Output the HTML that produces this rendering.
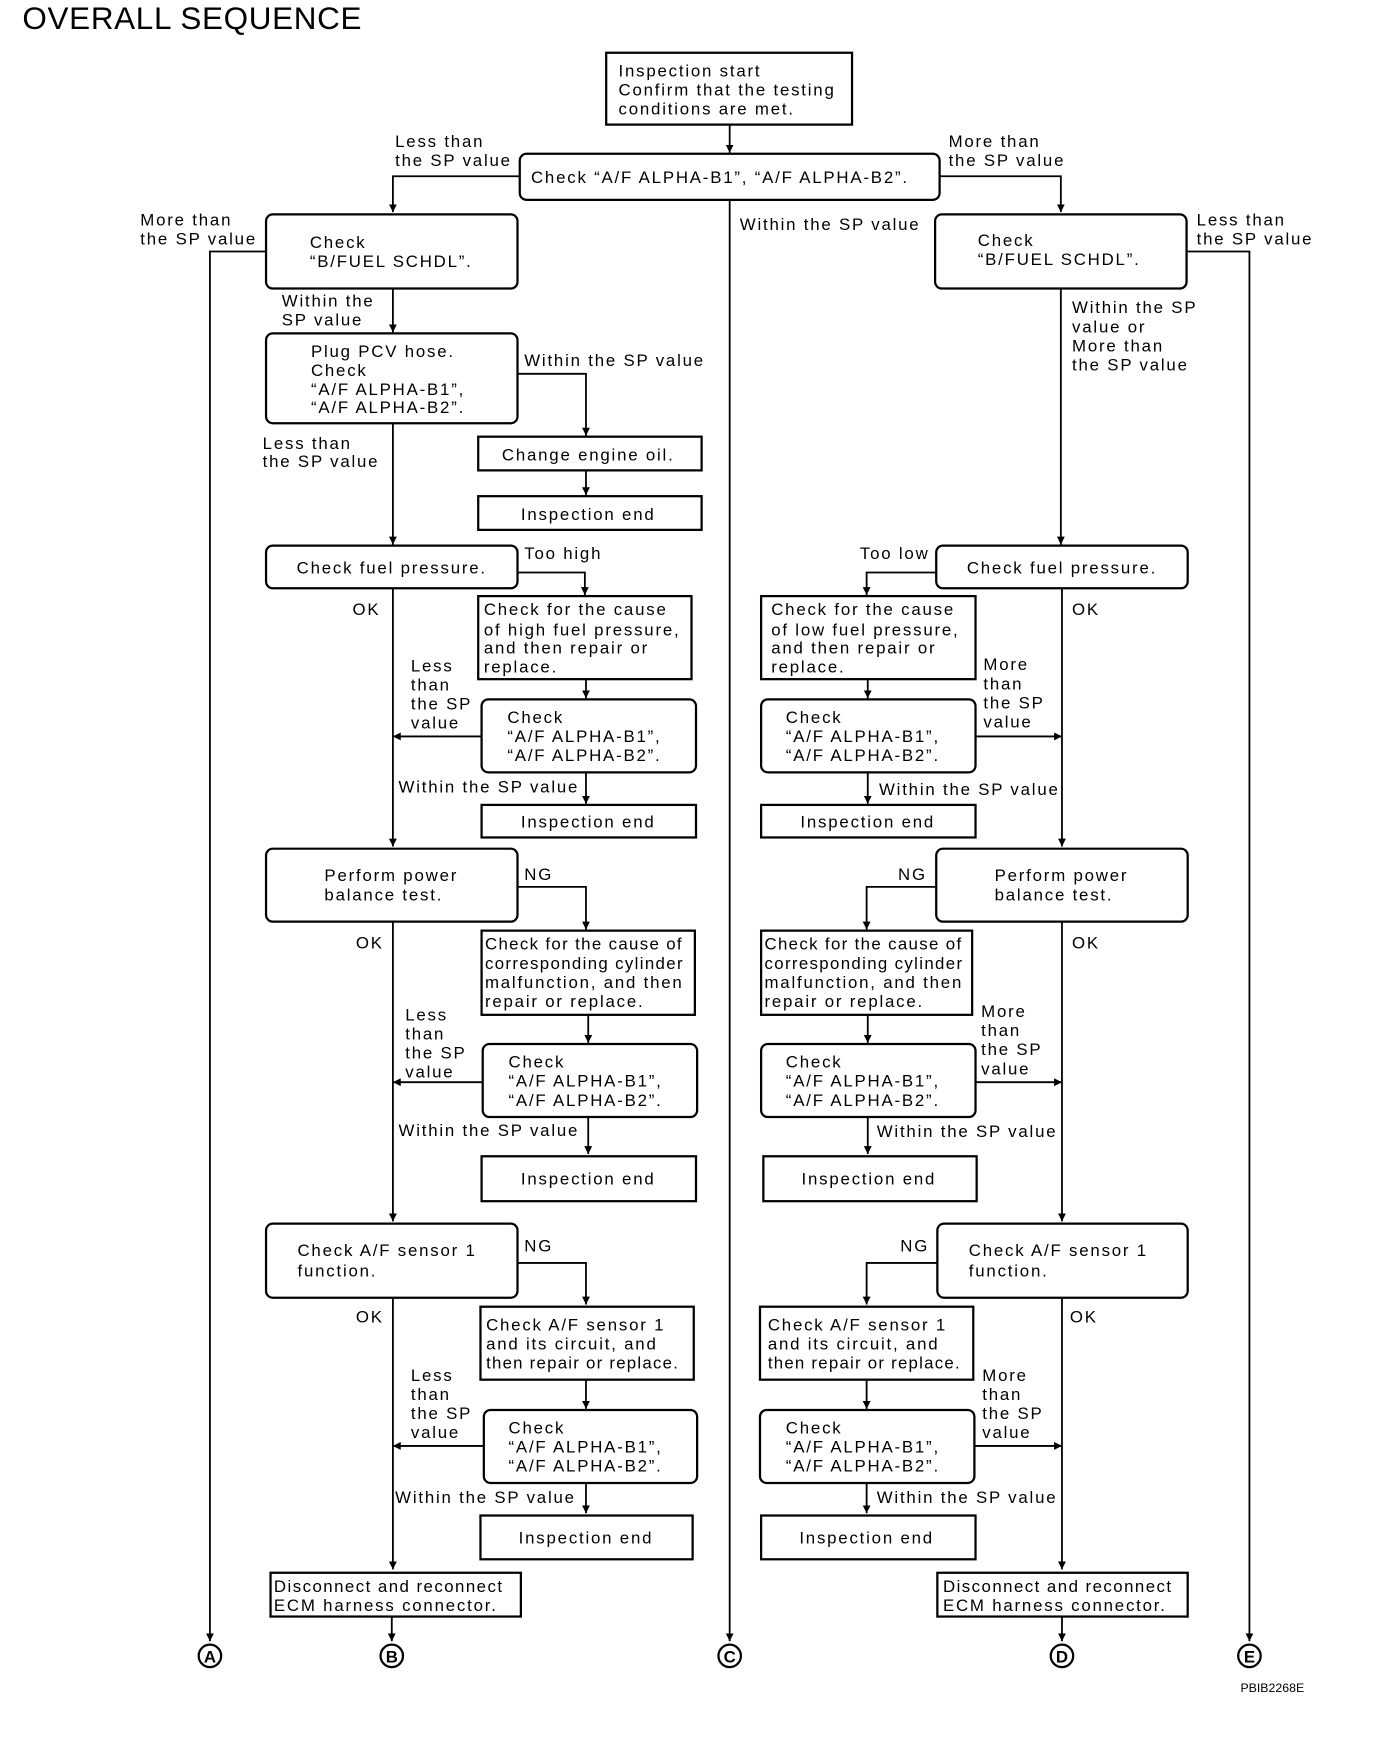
<!DOCTYPE html>
<html><head><meta charset="utf-8"><style>
html,body{margin:0;padding:0;background:#fff}
svg{display:block}
text{font-family:"Liberation Sans",sans-serif;font-size:15px;letter-spacing:1.6px;fill:#000}
.b{fill:#fff;stroke:#000;stroke-width:2}
.l{fill:none;stroke:#000;stroke-width:1.6}
.c{text-anchor:middle}
</style></head><body>
<svg width="1392" height="1758" viewBox="0 0 1240 1566" preserveAspectRatio="none" xmlns="http://www.w3.org/2000/svg">
<defs><marker id="a" viewBox="0 0 10 10" refX="10" refY="5" markerWidth="7" markerHeight="7" markerUnits="userSpaceOnUse" orient="auto"><path d="M0,0 L10,5 L0,10 z" fill="#000"/></marker></defs>
<text x="20" y="26" style="font-size:28px;letter-spacing:0.6px">OVERALL SEQUENCE</text>

<rect class="b" x="540" y="47" width="219" height="64"/>
<text x="551" y="68">Inspection start</text><text x="551" y="85">Confirm that the testing</text><text x="551" y="102">conditions are met.</text>
<path class="l" d="M650,111V136" marker-end="url(#a)"/>
<rect class="b" x="463" y="137" width="374" height="41" rx="6"/>
<text x="473" y="163">Check “A/F ALPHA-B1”, “A/F ALPHA-B2”.</text>
<path class="l" d="M463,157H350V189" marker-end="url(#a)"/>
<text x="352" y="131">Less than</text><text x="352" y="148">the SP value</text>
<path class="l" d="M837,157H945V189" marker-end="url(#a)"/>
<text x="845" y="131">More than</text><text x="845" y="148">the SP value</text>
<path class="l" d="M650,178V1462" marker-end="url(#a)"/>
<text x="659" y="205">Within the SP value</text>

<rect class="b" x="237" y="191" width="224" height="66" rx="6"/>
<text x="276" y="221">Check</text><text x="276" y="238">“B/FUEL SCHDL”.</text>
<text x="125" y="201">More than</text><text x="125" y="218">the SP value</text>
<path class="l" d="M237,224H187V1462" marker-end="url(#a)"/>
<rect class="b" x="833" y="191" width="224" height="66" rx="6"/>
<text x="871" y="219">Check</text><text x="871" y="236">“B/FUEL SCHDL”.</text>
<text x="1066" y="201">Less than</text><text x="1066" y="218">the SP value</text>
<path class="l" d="M1057,224H1113V1462" marker-end="url(#a)"/>

<path class="l" d="M350,257V296" marker-end="url(#a)"/>
<text x="251" y="273">Within the</text><text x="251" y="290">SP value</text>
<rect class="b" x="237" y="297" width="224" height="80" rx="6"/>
<text x="277" y="318">Plug PCV hose.</text><text x="277" y="335">Check</text><text x="277" y="352">“A/F ALPHA-B1”,</text><text x="277" y="368">“A/F ALPHA-B2”.</text>
<path class="l" d="M461,333H522V388" marker-end="url(#a)"/>
<text x="467" y="326">Within the SP value</text>
<rect class="b" x="426" y="389" width="199" height="30"/><text class="c" x="524" y="410">Change engine oil.</text>
<path class="l" d="M522,419V441" marker-end="url(#a)"/>
<rect class="b" x="426" y="442" width="199" height="30"/><text class="c" x="524" y="463">Inspection end</text>
<path class="l" d="M350,377V485" marker-end="url(#a)"/>
<text x="234" y="400">Less than</text><text x="234" y="416">the SP value</text>

<rect class="b" x="237" y="486" width="224" height="38" rx="6"/><text class="c" x="349" y="511">Check fuel pressure.</text>
<path class="l" d="M461,510H521V530" marker-end="url(#a)"/><text x="467" y="498">Too high</text>
<rect class="b" x="426" y="531" width="190" height="74"/>
<text x="431" y="548">Check for the cause</text><text x="431" y="566">of high fuel pressure,</text><text x="431" y="582">and then repair or</text><text x="431" y="599">replace.</text>
<path class="l" d="M522,605V622" marker-end="url(#a)"/>
<rect class="b" x="429" y="623" width="191" height="65" rx="6"/>
<text x="452" y="644">Check</text><text x="452" y="661">“A/F ALPHA-B1”,</text><text x="452" y="678">“A/F ALPHA-B2”.</text>
<path class="l" d="M429,656H350" marker-end="url(#a)"/>
<text x="366" y="598">Less</text><text x="366" y="615">than</text><text x="366" y="632">the SP</text><text x="366" y="649">value</text>
<text x="314" y="548">OK</text>
<path class="l" d="M350,524V754" marker-end="url(#a)"/>
<path class="l" d="M522,688V716" marker-end="url(#a)"/><text x="355" y="706">Within the SP value</text>
<rect class="b" x="429" y="717" width="191" height="29"/><text class="c" x="524" y="737">Inspection end</text>

<rect class="b" x="237" y="756" width="224" height="65" rx="6"/>
<text x="289" y="785">Perform power</text><text x="289" y="802">balance test.</text>
<path class="l" d="M461,790H522V828" marker-end="url(#a)"/><text x="467" y="784">NG</text>
<rect class="b" x="429" y="829" width="190" height="75"/>
<text x="432" y="846" style="letter-spacing:1.2px">Check for the cause of</text><text x="432" y="863" style="letter-spacing:1.2px">corresponding cylinder</text><text x="432" y="880">malfunction, and then</text><text x="432" y="897">repair or replace.</text>
<path class="l" d="M524,904V929" marker-end="url(#a)"/>
<rect class="b" x="430" y="930" width="191" height="65" rx="6"/>
<text x="453" y="951">Check</text><text x="453" y="968">“A/F ALPHA-B1”,</text><text x="453" y="985">“A/F ALPHA-B2”.</text>
<path class="l" d="M430,964H350" marker-end="url(#a)"/>
<text x="361" y="909">Less</text><text x="361" y="926">than</text><text x="361" y="943">the SP</text><text x="361" y="960">value</text>
<text x="317" y="845">OK</text>
<path class="l" d="M350,821V1088" marker-end="url(#a)"/>
<path class="l" d="M524,995V1028" marker-end="url(#a)"/><text x="355" y="1012">Within the SP value</text>
<rect class="b" x="429" y="1030" width="191" height="40"/><text class="c" x="524" y="1055">Inspection end</text>

<rect class="b" x="237" y="1090" width="224" height="66" rx="6"/>
<text x="265" y="1119">Check A/F sensor 1</text><text x="265" y="1137">function.</text>
<path class="l" d="M461,1125H522V1162" marker-end="url(#a)"/><text x="467" y="1115">NG</text>
<rect class="b" x="428" y="1164" width="190" height="65"/>
<text x="433" y="1185">Check A/F sensor 1</text><text x="433" y="1202">and its circuit, and</text><text x="433" y="1219" style="letter-spacing:1.1px">then repair or replace.</text>
<path class="l" d="M522,1229V1255" marker-end="url(#a)"/>
<rect class="b" x="431" y="1256" width="190" height="65" rx="6"/>
<text x="453" y="1277">Check</text><text x="453" y="1294">“A/F ALPHA-B1”,</text><text x="453" y="1311">“A/F ALPHA-B2”.</text>
<path class="l" d="M431,1288H350" marker-end="url(#a)"/>
<text x="366" y="1230">Less</text><text x="366" y="1247">than</text><text x="366" y="1264">the SP</text><text x="366" y="1281">value</text>
<text x="317" y="1178">OK</text>
<path class="l" d="M350,1156V1398" marker-end="url(#a)"/>
<path class="l" d="M522,1321V1348" marker-end="url(#a)"/><text x="352" y="1339">Within the SP value</text>
<rect class="b" x="428" y="1350" width="189" height="39"/><text class="c" x="522" y="1375">Inspection end</text>
<rect class="b" x="241" y="1401" width="223" height="39"/>
<text x="244" y="1418" style="letter-spacing:1.3px">Disconnect and reconnect</text><text x="244" y="1435">ECM harness connector.</text>
<path class="l" d="M349,1440V1462" marker-end="url(#a)"/>

<path class="l" d="M945,257V485" marker-end="url(#a)"/>
<text x="955" y="279">Within the SP</text><text x="955" y="296">value or</text><text x="955" y="313">More than</text><text x="955" y="330">the SP value</text>
<rect class="b" x="834" y="486" width="224" height="38" rx="6"/><text class="c" x="946" y="511">Check fuel pressure.</text>
<path class="l" d="M834,510H772V530" marker-end="url(#a)"/><text x="766" y="498">Too low</text>
<rect class="b" x="678" y="531" width="191" height="74"/>
<text x="687" y="548">Check for the cause</text><text x="687" y="566">of low fuel pressure,</text><text x="687" y="582">and then repair or</text><text x="687" y="599">replace.</text>
<path class="l" d="M773,605V622" marker-end="url(#a)"/>
<rect class="b" x="678" y="623" width="191" height="65" rx="6"/>
<text x="700" y="644">Check</text><text x="700" y="661">“A/F ALPHA-B1”,</text><text x="700" y="678">“A/F ALPHA-B2”.</text>
<path class="l" d="M869,656H946" marker-end="url(#a)"/>
<text x="876" y="597">More</text><text x="876" y="614">than</text><text x="876" y="631">the SP</text><text x="876" y="648">value</text>
<text x="955" y="548">OK</text>
<path class="l" d="M946,524V754" marker-end="url(#a)"/>
<path class="l" d="M773,688V716" marker-end="url(#a)"/><text x="783" y="708">Within the SP value</text>
<rect class="b" x="678" y="717" width="191" height="29"/><text class="c" x="773" y="737">Inspection end</text>

<rect class="b" x="834" y="756" width="224" height="65" rx="6"/>
<text x="886" y="785">Perform power</text><text x="886" y="802">balance test.</text>
<path class="l" d="M834,790H772V828" marker-end="url(#a)"/><text x="800" y="784">NG</text>
<rect class="b" x="678" y="829" width="188" height="75"/>
<text x="681" y="846" style="letter-spacing:1.2px">Check for the cause of</text><text x="681" y="863" style="letter-spacing:1.2px">corresponding cylinder</text><text x="681" y="880">malfunction, and then</text><text x="681" y="897">repair or replace.</text>
<path class="l" d="M773,904V929" marker-end="url(#a)"/>
<rect class="b" x="678" y="930" width="191" height="65" rx="6"/>
<text x="700" y="951">Check</text><text x="700" y="968">“A/F ALPHA-B1”,</text><text x="700" y="985">“A/F ALPHA-B2”.</text>
<path class="l" d="M869,964H946" marker-end="url(#a)"/>
<text x="874" y="906">More</text><text x="874" y="923">than</text><text x="874" y="940">the SP</text><text x="874" y="957">value</text>
<text x="955" y="845">OK</text>
<path class="l" d="M946,821V1088" marker-end="url(#a)"/>
<path class="l" d="M773,995V1028" marker-end="url(#a)"/><text x="781" y="1013">Within the SP value</text>
<rect class="b" x="680" y="1030" width="190" height="40"/><text class="c" x="774" y="1055">Inspection end</text>

<rect class="b" x="835" y="1090" width="223" height="66" rx="6"/>
<text x="863" y="1119">Check A/F sensor 1</text><text x="863" y="1137">function.</text>
<path class="l" d="M835,1125H772V1162" marker-end="url(#a)"/><text x="802" y="1115">NG</text>
<rect class="b" x="677" y="1164" width="190" height="65"/>
<text x="684" y="1185">Check A/F sensor 1</text><text x="684" y="1202">and its circuit, and</text><text x="684" y="1219" style="letter-spacing:1.1px">then repair or replace.</text>
<path class="l" d="M772,1229V1255" marker-end="url(#a)"/>
<rect class="b" x="677" y="1256" width="191" height="65" rx="6"/>
<text x="700" y="1277">Check</text><text x="700" y="1294">“A/F ALPHA-B1”,</text><text x="700" y="1311">“A/F ALPHA-B2”.</text>
<path class="l" d="M868,1288H946" marker-end="url(#a)"/>
<text x="875" y="1230">More</text><text x="875" y="1247">than</text><text x="875" y="1264">the SP</text><text x="875" y="1281">value</text>
<text x="953" y="1178">OK</text>
<path class="l" d="M946,1156V1398" marker-end="url(#a)"/>
<path class="l" d="M772,1321V1348" marker-end="url(#a)"/><text x="781" y="1339">Within the SP value</text>
<rect class="b" x="678" y="1350" width="191" height="39"/><text class="c" x="772" y="1375">Inspection end</text>
<rect class="b" x="835" y="1401" width="223" height="39"/>
<text x="840" y="1418" style="letter-spacing:1.3px">Disconnect and reconnect</text><text x="840" y="1435">ECM harness connector.</text>
<path class="l" d="M946,1440V1462" marker-end="url(#a)"/>

<g style="font-weight:bold;font-size:15px">
<circle class="b" cx="187" cy="1475" r="10"/><text class="c" x="187" y="1481" style="letter-spacing:0">A</text>
<circle class="b" cx="349" cy="1475" r="10"/><text class="c" x="349" y="1481" style="letter-spacing:0">B</text>
<circle class="b" cx="650" cy="1475" r="10"/><text class="c" x="650" y="1481" style="letter-spacing:0">C</text>
<circle class="b" cx="946" cy="1475" r="10"/><text class="c" x="946" y="1481" style="letter-spacing:0">D</text>
<circle class="b" cx="1113" cy="1475" r="10"/><text class="c" x="1113" y="1481" style="letter-spacing:0">E</text>
</g>
<text x="1105" y="1507" style="font-size:11px;letter-spacing:0">PBIB2268E</text>
</svg>
</body></html>
